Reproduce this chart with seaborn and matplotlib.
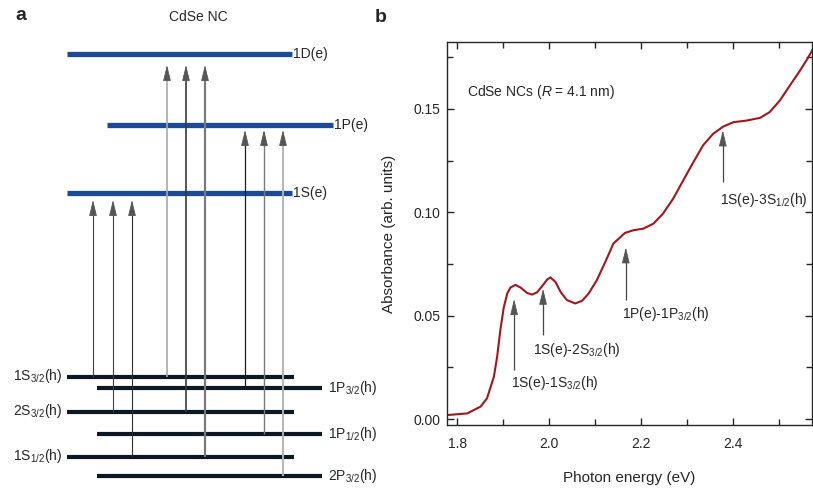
import numpy as np
import pandas as pd
import seaborn as sns
import matplotlib.pyplot as plt
from matplotlib.ticker import MultipleLocator

# ---- panel a: schematic level diagram (diagram units) ----
elec_names = ["1D(e)", "1P(e)", "1S(e)"]
elec_energy = [439, 368, 300]
hole_names = ["1S$_\\mathregular{3/2}$(h)", "1P$_\\mathregular{3/2}$(h)", "2S$_\\mathregular{3/2}$(h)",
              "1P$_\\mathregular{1/2}$(h)", "1S$_\\mathregular{1/2}$(h)", "2P$_\\mathregular{3/2}$(h)"]
hole_energy = [116, 105, 81, 59, 36, 17]
# transitions: hole level index -> electron level index
trans_from = [0, 2, 4, 0, 2, 4, 1, 3, 5]
trans_to = [2, 2, 2, 0, 0, 0, 1, 1, 1]

# ---- panel b: absorption spectrum ----
energy = [1.778, 1.822, 1.851, 1.865, 1.880, 1.887, 1.894, 1.9015, 1.909, 1.916, 1.927,
          1.938, 1.952, 1.963, 1.974, 1.985, 1.996, 2.003, 2.014, 2.025, 2.039, 2.057,
          2.072, 2.086, 2.104, 2.124, 2.140, 2.165, 2.183, 2.205, 2.227, 2.248, 2.270,
          2.292, 2.314, 2.335, 2.357, 2.379, 2.401, 2.430, 2.459, 2.480, 2.502, 2.524,
          2.546, 2.564, 2.574]
absorbance = [0.0019, 0.0027, 0.0060, 0.0100, 0.0205, 0.0300, 0.0430, 0.0540, 0.0607,
              0.0636, 0.0649, 0.0636, 0.0610, 0.0602, 0.0613, 0.0643, 0.0675, 0.0685,
              0.0663, 0.0615, 0.0575, 0.0559, 0.0572, 0.0607, 0.0672, 0.0768, 0.0849,
              0.0900, 0.0913, 0.0921, 0.0945, 0.0994, 0.1066, 0.1155, 0.1243, 0.1324,
              0.1380, 0.1415, 0.1436, 0.1444, 0.1457, 0.1485, 0.1541, 0.1614, 0.1686,
              0.1750, 0.1790]
peak_labels = ["1S(e)-1S$_\\mathregular{3/2}$(h)", "1S(e)-2S$_\\mathregular{3/2}$(h)",
               "1P(e)-1P$_\\mathregular{3/2}$(h)", "1S(e)-3S$_\\mathregular{1/2}$(h)"]
peak_energy = [1.924, 1.987, 2.167, 2.378]
peak_abs = [0.058, 0.063, 0.083, 0.1396]

sns.set_style("ticks")
plt.rcParams["font.family"] = ["Liberation Sans", "DejaVu Sans"]
plt.rcParams["mathtext.fontset"] = "custom"
plt.rcParams["mathtext.rm"] = "Liberation Sans"
plt.rcParams["mathtext.it"] = "Liberation Sans:italic"
plt.rcParams["mathtext.bf"] = "Liberation Sans:bold"

fig = plt.figure(figsize=(8.13, 4.93), dpi=100)

HEAD = "-|>,head_length=0.9,head_width=0.22"


def arrow(ax, x, y0, y1, shaft_col, lw, head_len):
    # shaft in its own shade, head always mid grey
    ax.plot([x, x], [y0, y1 - head_len * 0.5], color=shaft_col, lw=lw, zorder=3,
            solid_capstyle="butt")
    ax.annotate("", xy=(x, y1), xytext=(x, y1 - head_len),
                arrowprops=dict(arrowstyle=HEAD, color="#555555", lw=0.6,
                                shrinkA=0, shrinkB=0, mutation_scale=11),
                zorder=4)


# ---------------- panel a ----------------
axa = fig.add_axes([0, 0, 370 / 813, 1])
axa.set_xlim(0, 370)
axa.set_ylim(0, 493)
axa.axis("off")

elec_span = [(67, 292), (107, 333), (67, 292)]
hole_span = [(67, 294), (97, 322), (67, 294), (97, 322), (67, 294), (97, 322)]
arrow_x = [93, 113, 132, 167, 186, 205, 245, 264, 283]
arrow_col = ["#404040", "#404040", "#303030", "#a8a8a8", "#3a3a3a", "#7a7a7a",
             "#1e1e1e", "#7a7a7a", "#b4b4b4"]
arrow_lw = [0.8, 0.8, 0.8, 1.2, 1.2, 1.6, 0.9, 1.0, 1.4]
tip_gap = [11, 5, 7]

for name, e, (x0, x1) in zip(elec_names, elec_energy, elec_span):
    axa.hlines(e, x0, x1, color="#1b4a96", lw=3.8, zorder=2)
    axa.text(x1 + 1, e, name, ha="left", va="center", fontsize=10)

for i, (name, e, (x0, x1)) in enumerate(zip(hole_names, hole_energy, hole_span)):
    axa.hlines(e, x0, x1, color="#0c1824", lw=3.0, zorder=2)
    if x0 < 80:
        axa.text(x0 - 5, e + 1, name, ha="right", va="center", fontsize=10)
    else:
        axa.text(x1 + 6, e, name, ha="left", va="center", fontsize=10)

for x, hf, et, c, lw in zip(arrow_x, trans_from, trans_to, arrow_col, arrow_lw):
    arrow(axa, x, hole_energy[hf], elec_energy[et] - tip_gap[et], c, lw, 12)

axa.text(198, 476, "CdSe NC", ha="center", va="center", fontsize=10)
fig.text(15 / 813, 1 - 16 / 493, "a", fontsize=14, fontweight="bold", ha="left", va="center")
fig.text(375 / 813, 1 - 17 / 493, "b", fontsize=14, fontweight="bold", ha="left", va="center")

# ---------------- panel b ----------------
axb = fig.add_axes([447 / 813, 68 / 493, 365 / 813, 383 / 493])
spec = pd.DataFrame({"energy": energy, "absorbance": absorbance})
sns.lineplot(data=spec, x="energy", y="absorbance", color="#a3161b", lw=1.5, ax=axb)
axb.set_xlim(1.778, 2.572)
axb.set_ylim(-0.0029, 0.1824)
axb.xaxis.set_major_locator(MultipleLocator(0.2))
axb.xaxis.set_minor_locator(MultipleLocator(0.1))
axb.yaxis.set_major_locator(MultipleLocator(0.05))
axb.yaxis.set_minor_locator(MultipleLocator(0.025))
axb.xaxis.set_major_formatter(plt.FuncFormatter(lambda v, p: f"{v:.1f}"))
axb.yaxis.set_major_formatter(plt.FuncFormatter(lambda v, p: f"{v:.2f}"))
axb.tick_params(which="both", direction="in", top=True, right=True, labelsize=10)
axb.tick_params(which="major", length=5, width=1)
axb.tick_params(which="minor", length=4, width=1)
axb.tick_params(axis="x", pad=9)
axb.tick_params(axis="y", pad=5)
for s in axb.spines.values():
    s.set_linewidth(1.0)
axb.set_xlabel("Photon energy (eV)", fontsize=11, labelpad=14)
axb.set_ylabel("Absorbance (arb. units)", fontsize=11, labelpad=12)

axb.text(0.055, 0.87, "CdSe NCs ($R$ = 4.1 nm)", transform=axb.transAxes,
         ha="left", va="center", fontsize=10)

tails = [0.0237, 0.0406, 0.0575, 0.1145]
text_pos = [(1.917, 0.0174), (1.966, 0.0333), (2.158, 0.051), (2.372, 0.106)]
for lab, xe, ya, yt, (tx, ty) in zip(peak_labels, peak_energy, peak_abs, tails, text_pos):
    arrow(axb, xe, yt, ya, "#444444", 0.9, 0.0058)
    axb.text(tx, ty, lab, ha="left", va="center", fontsize=10)

fig.savefig("out.png", dpi=100)
